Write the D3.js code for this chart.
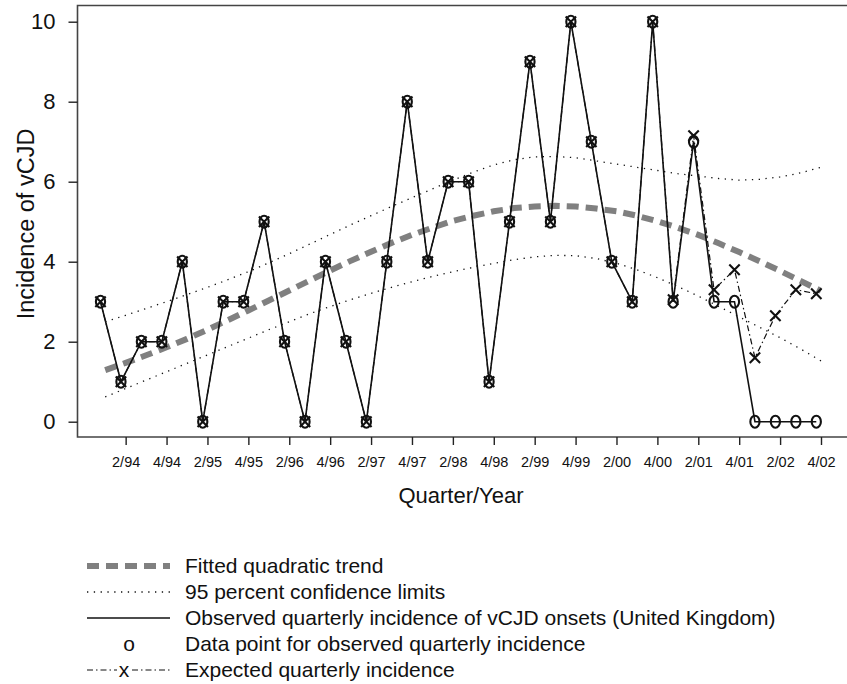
<!DOCTYPE html>
<html>
<head>
<meta charset="utf-8">
<script src="https://cdn.jsdelivr.net/npm/d3@7"></script>
<style>
  html, body { margin: 0; padding: 0; background: #fff; }
  svg text { font-family: "Liberation Sans", Arial, Helvetica, sans-serif; fill: #111; }
</style>
</head>
<body>
<svg id="my_svg"></svg>
<script>
const width = 847;
const height = 684;

// quarters 1/94 .. 4/02
const quarters = ['1/94','2/94','3/94','4/94','1/95','2/95','3/95','4/95',
    '1/96','2/96','3/96','4/96','1/97','2/97','3/97','4/97',
    '1/98','2/98','3/98','4/98','1/99','2/99','3/99','4/99',
    '1/00','2/00','3/00','4/00','1/01','2/01','3/01','4/01',
    '1/02','2/02','3/02','4/02'];
const tickLabels = ['2/94','4/94','2/95','4/95','2/96','4/96','2/97','4/97','2/98',
    '4/98','2/99','4/99','2/00','4/00','2/01','4/01','2/02','4/02'];

const observed = [3,1,2,2,4,0,3,3,5,2,0,4,2,0,4,8,4,6,6,1,5,9,5,10,
    7,4,3,10,3,7,3,3,0,0,0,0];
const expected = [3,1,2,2,4,0,3,3,5,2,0,4,2,0,4,8,4,6,6,1,5,9,5,10,
    7,4,3,10,3.05,7.15,3.3,3.8,1.6,2.65,3.3,3.2];
const trend = [1.29,1.47,1.66,1.86,2.07,2.30,2.54,2.78,3.03,3.28,3.53,3.78,
    4.02,4.25,4.47,4.67,4.85,5.02,5.15,5.26,5.34,5.38,5.40,5.38,
    5.33,5.26,5.15,5.01,4.85,4.67,4.46,4.24,4.01,3.77,3.52,3.27];
const upper = [2.50,2.66,2.83,3.00,3.18,3.36,3.55,3.75,3.97,4.20,4.44,4.68,
    4.92,5.15,5.38,5.60,5.82,6.04,6.24,6.42,6.55,6.62,6.63,6.60,
    6.52,6.44,6.36,6.28,6.20,6.14,6.08,6.04,6.06,6.12,6.22,6.36];
const lower = [0.62,0.83,1.04,1.25,1.46,1.67,1.88,2.09,2.30,2.50,2.70,2.88,
    3.05,3.21,3.36,3.50,3.63,3.75,3.86,3.96,4.05,4.12,4.16,4.15,
    4.08,3.96,3.80,3.60,3.38,3.14,2.88,2.62,2.36,2.10,1.82,1.52];

const legendItems = ['Fitted quadratic trend',
    '95 percent confidence limits',
    'Observed quarterly incidence of vCJD onsets (United Kingdom)',
    'Data point for observed quarterly incidence',
    'Expected quarterly incidence'];

const svg = d3.select('#my_svg')
    .attr('width', width)
    .attr('height', height);

const plotLeft = 77.5, plotTop = 5.5, plotBottom = 437;

const x = d3.scalePoint()
    .domain(quarters)
    .range([105.2, 821]);
// observed points sit a little left of the quarter ticks
const shift = -0.23 * x.step();
const y = d3.scaleLinear()
    .domain([0, 10])
    .range([421.7, 21.7]);

// frame
svg.append('path')
    .attr('d', `M${width + 2},${plotTop}H${plotLeft}V${plotBottom}H${width + 2}`)
    .attr('fill', 'none')
    .attr('stroke', '#444')
    .attr('stroke-width', 1.6);

// axes
const xAxis = svg.append('g')
    .attr('transform', `translate(0,${plotBottom})`)
    .call(d3.axisBottom(x).tickValues(tickLabels).tickSize(8).tickPadding(12).tickSizeOuter(0));
xAxis.select('.domain').remove();
xAxis.selectAll('line').attr('stroke', '#222').attr('stroke-width', 1.4);
xAxis.selectAll('text').attr('font-size', 14.5);

const yAxis = svg.append('g')
    .attr('transform', `translate(${plotLeft},0)`)
    .call(d3.axisLeft(y).tickValues([0, 2, 4, 6, 8, 10]).tickSize(9).tickPadding(13));
yAxis.select('.domain').remove();
yAxis.selectAll('line').attr('stroke', '#222').attr('stroke-width', 1.4);
yAxis.selectAll('text').attr('font-size', 22);

svg.append('text')
    .attr('x', 461).attr('y', 503)
    .attr('text-anchor', 'middle')
    .attr('font-size', 22)
    .text('Quarter/Year');

svg.append('text')
    .attr('transform', 'translate(34,224) rotate(-90)')
    .attr('text-anchor', 'middle')
    .attr('font-size', 23.5)
    .text('Incidence of vCJD');

const curve = d3.line()
    .x((d, i) => x(quarters[i]))
    .y(d => y(d));
const pointLine = d3.line()
    .x((d, i) => x(quarters[i]) + shift)
    .y(d => y(d));

// confidence limits
[upper, lower].forEach(s => {
    svg.append('path')
        .attr('d', curve(s))
        .attr('fill', 'none')
        .attr('stroke', '#111')
        .attr('stroke-width', 1.3)
        .attr('stroke-dasharray', '1.3,5.5');
});

// trend
svg.append('path')
    .attr('d', curve(trend))
    .attr('fill', 'none')
    .attr('stroke', '#808080')
    .attr('stroke-width', 6)
    .attr('stroke-dasharray', '12,7');

// expected
svg.append('path')
    .attr('d', pointLine(expected))
    .attr('fill', 'none')
    .attr('stroke', '#111')
    .attr('stroke-width', 1.2)
    .attr('stroke-dasharray', '6,3,1.5,3');

// observed
svg.append('path')
    .attr('d', pointLine(observed))
    .attr('fill', 'none')
    .attr('stroke', '#111')
    .attr('stroke-width', 1.6);

function drawO(g, cx, cy) {
    g.append('ellipse')
        .attr('cx', cx).attr('cy', cy)
        .attr('rx', 4.6).attr('ry', 6)
        .attr('fill', 'none')
        .attr('stroke', '#111')
        .attr('stroke-width', 2.1);
}
function drawX(g, cx, cy) {
    const r = 5.2;
    g.append('path')
        .attr('d', `M${cx - r},${cy - r}L${cx + r},${cy + r}M${cx - r},${cy + r}L${cx + r},${cy - r}`)
        .attr('fill', 'none')
        .attr('stroke', '#111')
        .attr('stroke-width', 2.1);
}

const marks = svg.append('g');
observed.forEach((v, i) => drawO(marks, x(quarters[i]) + shift, y(v)));
expected.forEach((v, i) => drawX(marks, x(quarters[i]) + shift, y(v)));

// legend
const legY = [566, 592, 618, 644, 670];
const lg = svg.append('g');
lg.append('line').attr('x1', 87).attr('x2', 170).attr('y1', legY[0]).attr('y2', legY[0])
    .attr('stroke', '#808080').attr('stroke-width', 6).attr('stroke-dasharray', '12,7');
lg.append('line').attr('x1', 87).attr('x2', 170).attr('y1', legY[1]).attr('y2', legY[1])
    .attr('stroke', '#111').attr('stroke-width', 1.3).attr('stroke-dasharray', '1.3,5.5');
lg.append('line').attr('x1', 87).attr('x2', 170).attr('y1', legY[2]).attr('y2', legY[2])
    .attr('stroke', '#111').attr('stroke-width', 1.6);
lg.append('text').attr('x', 129).attr('y', legY[3]).attr('dy', '0.35em')
    .attr('text-anchor', 'middle').attr('font-size', 21).text('o');
lg.append('line').attr('x1', 87).attr('x2', 117).attr('y1', legY[4]).attr('y2', legY[4])
    .attr('stroke', '#111').attr('stroke-width', 1.2).attr('stroke-dasharray', '6,3,1.5,3');
lg.append('line').attr('x1', 132).attr('x2', 170).attr('y1', legY[4]).attr('y2', legY[4])
    .attr('stroke', '#111').attr('stroke-width', 1.2).attr('stroke-dasharray', '6,3,1.5,3');
lg.append('text').attr('x', 124).attr('y', legY[4]).attr('dy', '0.35em')
    .attr('text-anchor', 'middle').attr('font-size', 21).text('x');

lg.selectAll('text.item')
    .data(legendItems)
    .enter().append('text')
    .attr('class', 'item')
    .attr('x', 185)
    .attr('y', (d, i) => legY[i])
    .attr('dy', '0.35em')
    .attr('font-size', 21)
    .text(d => d);
</script>
</body>
</html>
